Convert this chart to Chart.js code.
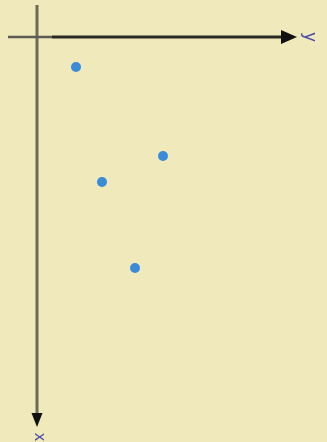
<!DOCTYPE html>
<html>
<head>
<meta charset="utf-8">
<script src="https://cdn.jsdelivr.net/npm/chart.js@4"></script>
<style>
  html, body { margin: 0; padding: 0; background: #efe9bb; }
  #wrap { width: 327px; height: 442px; position: relative; }
</style>
</head>
<body>
<div id="wrap"><canvas id="plot"></canvas></div>
<script>
// x runs down the page, y runs to the right
const xValues = [3.0, 11.9, 14.5, 23.1];
const yValues = [3.9, 12.6, 6.5, 9.8];
const axisNames = ['x', 'y'];

const BG = '#efe9bb';

// axes through the origin, with arrowheads and rotated names
const arrowAxes = {
  id: 'arrowAxes',
  afterDatasetsDraw(chart) {
    const { ctx, scales } = chart;
    const ox = scales.x.getPixelForValue(0);
    const oy = scales.y.getPixelForValue(0);
    const right = scales.x.right;
    const bottom = scales.y.bottom;
    ctx.save();

    // vertical (x) axis
    ctx.strokeStyle = '#6b6b5c';
    ctx.lineWidth = 3;
    ctx.beginPath();
    ctx.moveTo(ox, 5);
    ctx.lineTo(ox, bottom - 12);
    ctx.stroke();
    ctx.fillStyle = '#111';
    ctx.beginPath();
    ctx.moveTo(ox - 5.5, bottom - 14);
    ctx.lineTo(ox + 5.5, bottom - 14);
    ctx.lineTo(ox, bottom);
    ctx.closePath();
    ctx.fill();

    // horizontal (y) axis
    ctx.strokeStyle = '#5c5c52';
    ctx.lineWidth = 2.5;
    ctx.beginPath();
    ctx.moveTo(8, oy);
    ctx.lineTo(ox + 15, oy);
    ctx.stroke();
    ctx.strokeStyle = '#2a2a24';
    ctx.lineWidth = 3;
    ctx.beginPath();
    ctx.moveTo(ox + 15, oy);
    ctx.lineTo(right - 12, oy);
    ctx.stroke();
    ctx.fillStyle = '#111';
    ctx.beginPath();
    ctx.moveTo(right - 16, oy - 7);
    ctx.lineTo(right - 16, oy + 7);
    ctx.lineTo(right, oy);
    ctx.closePath();
    ctx.fill();

    // axis names
    ctx.fillStyle = '#4b4ba6';
    ctx.textAlign = 'center';
    ctx.textBaseline = 'middle';
    [[axisNames[0], ox + 2, bottom + 10, 15], [axisNames[1], right + 12, oy, 17]].forEach(([t, px, py, size]) => {
      ctx.save();
      ctx.font = size + 'px "DejaVu Sans", sans-serif';
      ctx.translate(px, py);
      ctx.rotate(Math.PI / 2);
      ctx.fillText(t, 0, 0);
      ctx.restore();
    });
    ctx.restore();
  }
};

const background = {
  id: 'background',
  beforeDraw(chart) {
    const { ctx, width, height } = chart;
    ctx.save();
    ctx.fillStyle = BG;
    ctx.fillRect(0, 0, width, height);
    ctx.restore();
  }
};

new Chart(document.getElementById('plot'), {
  type: 'scatter',
  data: {
    datasets: [{
      data: xValues.map((xv, i) => ({ x: yValues[i], y: xv })),
      backgroundColor: '#3a8bd8',
      borderWidth: 0,
      pointRadius: 5,
      pointHoverRadius: 5,
    }],
  },
  options: {
    responsive: true,
    maintainAspectRatio: false,
    animation: false,
    layout: { padding: { left: 37, top: 37, right: 30, bottom: 15 } },
    scales: {
      x: { type: 'linear', min: 0, max: 26, display: false },
      y: { type: 'linear', min: 0, max: 39, reverse: true, display: false },
    },
    plugins: {
      legend: { display: false },
      tooltip: { enabled: false },
    },
  },
  plugins: [background, arrowAxes],
});
</script>
</body>
</html>
